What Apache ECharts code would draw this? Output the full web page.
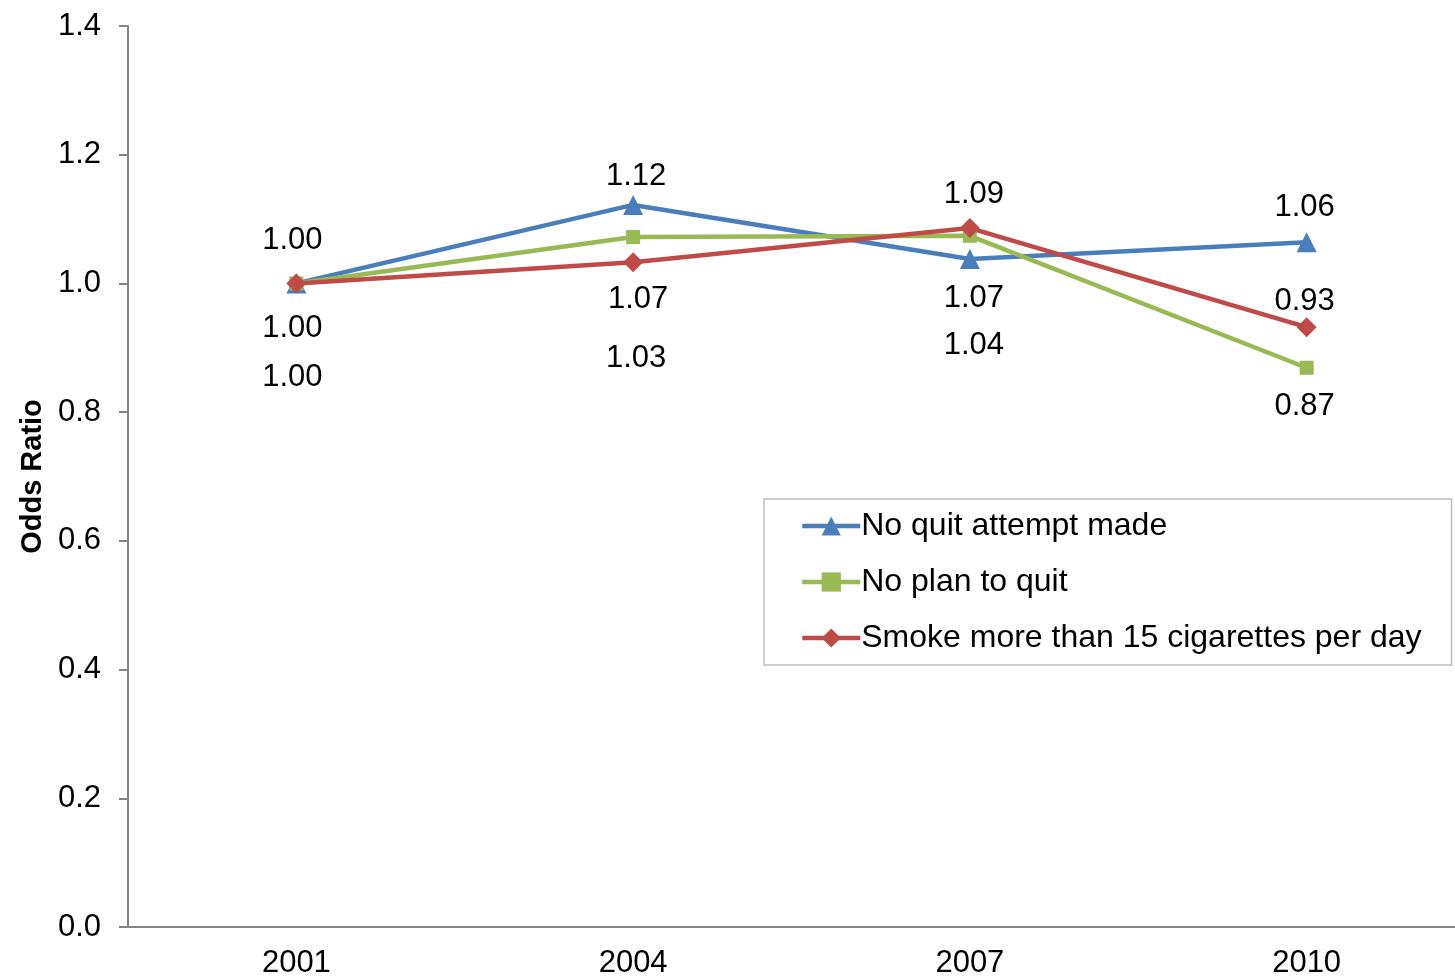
<!DOCTYPE html>
<html lang="en">
  <head>
    <meta charset="UTF-8" />
    <title>Odds Ratio</title>
    <script src="https://cdn.jsdelivr.net/npm/echarts@6.0.0/dist/echarts.min.js"></script>
    <style>
      html, body { margin: 0; padding: 0; background: #fff; }
    </style>
  </head>
  <body>
    <div id="chart" style="width: 1455px; height: 980px"></div>
    <script>
      // data
      var years = ['2001', '2004', '2007', '2010']
      var noQuitAttempt = [1.0, 1.122, 1.038, 1.064]
      var noPlanToQuit = [1.0, 1.072, 1.074, 0.869]
      var smokeMore15 = [1.0, 1.033, 1.086, 0.932]

      // where each value label sits relative to its point (Excel placed them by hand)
      var blueOffsets = [[-4, -43], [3, -28], [4, 86], [-2, -35]]
      var greenOffsets = [[-4, 45], [5, 62], [4, 63], [-2, 39]]
      var redOffsets = [[-4, 94], [3, 96], [4, -34], [-2, -26]]

      var font = 'Liberation Sans, Arial, sans-serif'

      function withLabels(values, offsets) {
        return values.map(function (v, i) {
          return { value: v, label: { offset: offsets[i] } }
        })
      }

      function lineSeries(name, values, offsets, color, symbol, size) {
        return {
          name: name,
          type: 'line',
          data: withLabels(values, offsets),
          symbol: symbol,
          symbolSize: size,
          color: color,
          lineStyle: { color: color, width: 4.5 },
          itemStyle: { color: color },
          label: {
            show: true,
            position: 'inside',
            color: '#000',
            fontFamily: font,
            fontSize: 31,
            formatter: function (p) { return p.value.toFixed(2) }
          },
          emphasis: { disabled: true },
          animation: false
        }
      }

      var chart = echarts.init(document.getElementById('chart'))
      chart.setOption({
        animation: false,
        grid: { left: 128, top: 26, bottom: 53, width: 1347, containLabel: false, outerBoundsMode: 'none' },
        xAxis: {
          type: 'category',
          data: years,
          boundaryGap: true,
          axisLine: { lineStyle: { color: '#868686', width: 2 } },
          axisTick: { show: false },
          axisLabel: { color: '#000', fontFamily: font, fontSize: 31, margin: 21 }
        },
        yAxis: {
          type: 'value',
          min: 0,
          max: 1.4,
          interval: 0.2,
          name: 'Odds Ratio',
          nameLocation: 'middle',
          nameGap: 81,
          nameTextStyle: { color: '#000', fontFamily: font, fontSize: 29, fontWeight: 'bold' },
          axisLine: { show: true, lineStyle: { color: '#868686', width: 2 } },
          axisTick: { show: true, length: 9, lineStyle: { color: '#868686', width: 2 } },
          splitLine: { show: false },
          axisLabel: {
            color: '#000',
            fontFamily: font,
            fontSize: 31,
            margin: 27,
            formatter: function (v) { return v.toFixed(1) }
          }
        },
        legend: {
          orient: 'vertical',
          left: 764,
          top: 499,
          padding: [10, 30, 10, 36],
          itemGap: 22,
          itemWidth: 58,
          itemHeight: 24,
          borderColor: '#bfbfbf',
          borderWidth: 1.5,
          borderRadius: 0,
          lineStyle: { width: 4.5 },
          textStyle: { color: '#000', fontFamily: font, fontSize: 32, lineHeight: 34, padding: [0, 0, 0, -4] },
          data: ['No quit attempt made', 'No plan to quit', 'Smoke more than 15 cigarettes per day']
        },
        series: [
          lineSeries('No quit attempt made', noQuitAttempt, blueOffsets, '#4a7ebb', 'triangle', 20),
          lineSeries('No plan to quit', noPlanToQuit, greenOffsets, '#98b954', 'rect', 14),
          lineSeries('Smoke more than 15 cigarettes per day', smokeMore15, redOffsets, '#be4b48', 'diamond', 20)
        ]
      })
    </script>
  </body>
</html>
